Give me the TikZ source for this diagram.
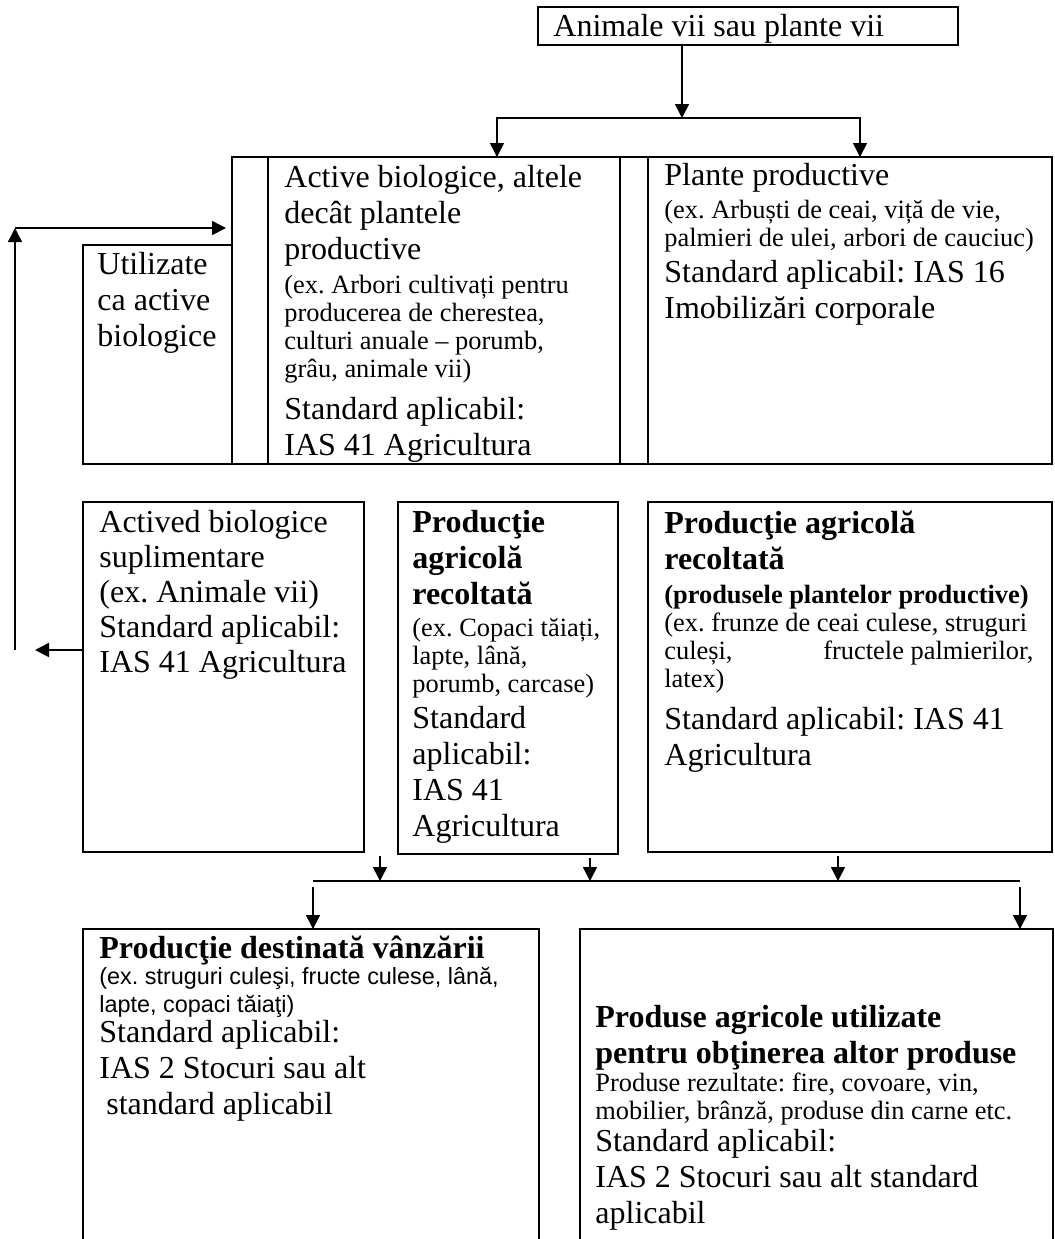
\documentclass[tikz,border=0pt]{standalone}
\usepackage{fontspec}
\setmainfont{Liberation Serif}
\newfontfamily\arialfont{Liberation Sans}
\usetikzlibrary{arrows.meta}
\frenchspacing

\newcommand{\bigfnt}{\fontsize{16}{18}\selectfont}
\newcommand{\smallfnt}{\fontsize{13.2}{14}\selectfont}
\newcommand{\sansfnt}{\arialfont\fontsize{11.7}{14}\selectfont}

\tikzset{
  box/.style={draw, line width=1pt, inner sep=0pt, outer sep=0pt, anchor=north west},
  strip/.style={box, line width=0.8pt},
  txt/.style={anchor=base west, align=flush left, inner sep=0pt, font=\bigfnt},
  arr/.style={line width=0.8pt, -{Triangle[length=7pt, width=7pt]}}
}

\begin{document}
\begin{tikzpicture}[x=0.5pt, y=-0.5pt]
\useasboundingbox (0,0) rectangle (1055,1239);

% boxes
\node[box, minimum width=210pt, minimum height=19pt] (top) at (538,7) {};
\node[box, minimum width=74.5pt, minimum height=109.5pt] (util) at (83,245) {};
\node[strip, minimum width=18pt, minimum height=153.5pt] (strip1) at (232,157) {};
\node[strip, minimum width=176pt, minimum height=153.5pt] (act) at (268,157) {};
\node[strip, minimum width=14pt, minimum height=153.5pt] (strip2) at (620,157) {};
\node[strip, minimum width=202pt, minimum height=153.5pt] (plante) at (648,157) {};
\draw[line width=1.2pt] (strip1.north west) -- (plante.north east);
\node[box, minimum width=140.5pt, minimum height=175pt] (supl) at (83,502) {};
\node[box, minimum width=110pt, minimum height=176pt] (recolt) at (398,502) {};
\node[box, minimum width=202pt, minimum height=175pt] (prodplant) at (648,502) {};
\node[box, minimum width=228pt, minimum height=165pt] (vanz) at (83,929) {};
\node[box, minimum width=236.5pt, minimum height=165pt] (obtin) at (580,929) {};

% texts
\node[txt, text width=200pt] (topT) at (553,36) {Animale vii sau plante vii};
\node[txt, text width=68pt] (utilT) at (97,274) {Utilizate\\ca active\\biologice};
\node[txt, text width=166pt] (actT) at (284,187) {Active biologice, altele\\decât plantele\\productive\par
  \vspace{3pt}{\smallfnt (ex. Arbori cultivați pentru\\producerea de cherestea,\\culturi anuale – porumb,\\grâu, animale vii)\par}
  \vspace{3pt}Standard aplicabil:\\IAS 41 Agricultura};
\node[txt, text width=192pt] (planteT) at (664,185) {Plante productive\par
  \vspace{2.5pt}{\smallfnt (ex. Arbuști de ceai, viță de vie,\\palmieri de ulei, arbori de cauciuc)\par}
  Standard aplicabil: IAS 16\\Imobilizări corporale};
\node[txt, text width=133pt, font=\fontsize{16}{17.5}\selectfont] (suplT) at (99,532)
  {Actived biologice\\suplimentare\\(ex. Animale vii)\\Standard aplicabil:\\IAS 41 Agricultura};
\node[txt, text width=102pt] (recoltT) at (412,532) {{\bfseries Producţie\\agricolă\\recoltată\par}
  \vspace{2pt}{\smallfnt (ex. Copaci tăiați,\\lapte, lână,\\porumb, carcase)\par}
  Standard\\aplicabil:\\IAS 41\\Agricultura};
\node[txt, text width=184.5pt] (prodplantT) at (664,533) {{\bfseries Producţie agricolă\\recoltată\par}
  \vspace{3pt}{\smallfnt {\bfseries (produsele plantelor productive)}\\(ex. frunze de ceai culese, struguri\\culeși,\hfill fructele palmierilor,\\latex)\par}
  \vspace{3pt}Standard aplicabil: IAS 41\\Agricultura};
\node[txt, text width=215pt] (vanzT) at (99,958) {{\bfseries Producţie destinată vânzării\par}
  \vspace{-1pt}{\sansfnt (ex. struguri culeşi, fructe culese, lână,\\lapte, copaci tăiaţi)\par}
  \vspace{-3pt}Standard aplicabil:\\IAS 2 Stocuri sau alt\\\hspace*{3.5pt}standard aplicabil};
\node[txt, text width=225pt] (obtinT) at (595,1027) {{\bfseries Produse agricole utilizate\\pentru obţinerea altor produse\par}
  {\smallfnt Produse rezultate: fire, covoare, vin,\\mobilier, brânză, produse din carne etc.\par}
  \vspace{-2pt}Standard aplicabil:\\IAS 2 Stocuri sau alt standard\\aplicabil};

% connectors
\coordinate (split) at (682,118);
\coordinate (dropL) at (497,157);
\coordinate (dropR) at (860,157);
\draw[arr] (top.south -| split) -- (split);
\draw[arr] (split) -| (dropL);
\draw[arr] (split) -| (dropR);

\coordinate (fbLow) at (15,650);
\coordinate (fbHigh) at (15,228);
\coordinate (fbTip) at (35,650);
\draw[arr] (supl.west |- fbTip) -- (fbTip);
\draw[arr] (fbLow) -- (fbHigh);
\draw[arr, shorten >=3pt] (fbHigh) -- (fbHigh -| strip1.west);

\coordinate (mergeL) at (313,881);
\coordinate (mergeR) at (1020,881);
\coordinate (ina) at (380,881);
\coordinate (inb) at (590,881);
\coordinate (inc) at (838,881);
\draw[arr, shorten <=2pt] (supl.south -| ina) -- (ina);
\draw[arr, shorten <=2pt] (recolt.south -| inb) -- (inb);
\draw[arr, shorten <=2pt] (prodplant.south -| inc) -- (inc);
\draw[line width=0.8pt] (mergeL) -- (mergeR);
\draw[arr, shorten <=3pt] (mergeL) -- (vanz.north -| mergeL);
\draw[arr, shorten <=3pt] (mergeR) -- (obtin.north -| mergeR);
\end{tikzpicture}
\end{document}
